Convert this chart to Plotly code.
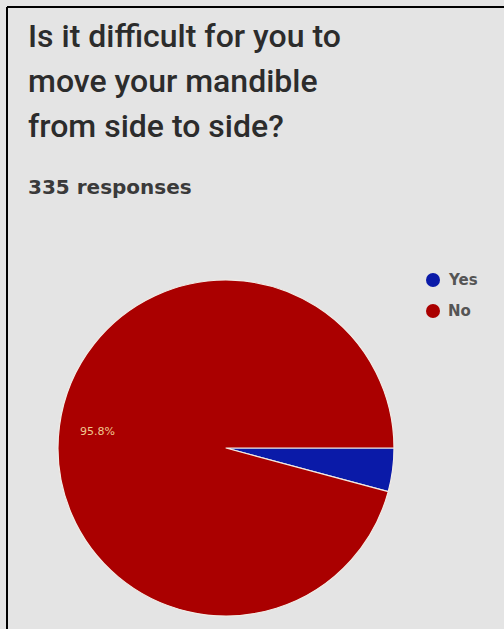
import math
import plotly.graph_objects as go

# Survey answers
question_lines = ["Is it difficult for you to", "move your mandible", "from side to side?"]
response_note = "335 responses"
answers = ["Yes", "No"]
counts = [14, 321]
colors = ["#0a1aa8", "#aa0000"]

W, H = 504, 629
CX, CY, R = 226, 448, 168          # pie centre and radius in pixels
START_DEG = 90                     # first slice starts at 3 o'clock, runs clockwise

total = sum(counts)

fig = go.Figure()
fig.add_trace(go.Pie(
    labels=answers,
    values=counts,
    sort=False,
    direction="clockwise",
    rotation=START_DEG,
    marker=dict(colors=colors, line=dict(color="#f2ece6", width=1.2)),
    textinfo="none",
    showlegend=False,
    hoverinfo="label+percent",
    domain=dict(x=[(CX - R) / W, (CX + R) / W],
                y=[1 - (CY + R) / H, 1 - (CY - R) / H]),
))

annotations = []

# Percentage labels for slices large enough to hold one, placed along the slice's mid angle
cum = 0
for c in counts:
    frac = c / total
    mid = cum + frac / 2
    cum += frac
    if frac < 0.05:
        continue
    # clockwise from 3 o'clock, screen y grows downward
    ang = math.radians(mid * 360)
    px = CX + 0.77 * R * math.cos(ang)
    py = CY + 0.77 * R * math.sin(ang)
    annotations.append(dict(
        x=px / W, y=1 - py / H, xref="paper", yref="paper",
        xanchor="center", yanchor="middle", showarrow=False,
        text=f"{frac * 100:.1f}%",
        font=dict(family="DejaVu Sans", size=11, color="#f0c890"),
    ))

for i, line in enumerate(question_lines):
    annotations.append(dict(
        x=26 / W, y=1 - (36 + 45 * i) / H, xref="paper", yref="paper",
        xanchor="left", yanchor="middle", showarrow=False, text=line,
        font=dict(family="Roboto", size=32, color="#2c2c2c", weight=500),
    ))
annotations.append(dict(
    x=26 / W, y=1 - 187 / H, xref="paper", yref="paper",
    xanchor="left", yanchor="middle", showarrow=False, text=response_note,
    font=dict(family="DejaVu Sans", size=20, color="#3a3a3a", weight="bold"),
))

shapes = [
    dict(type="line", xref="paper", yref="paper", x0=7 / W, x1=1, y0=1 - 7 / H, y1=1 - 7 / H,
         line=dict(color="#000000", width=2)),
    dict(type="line", xref="paper", yref="paper", x0=7 / W, x1=7 / W, y0=0, y1=1 - 7 / H,
         line=dict(color="#000000", width=2)),
]

# Legend: dot + label per answer
for i, (name, col) in enumerate(zip(answers, colors)):
    cy = 280 + 31 * i
    shapes.append(dict(type="circle", xref="paper", yref="paper",
                       x0=(433 - 7) / W, x1=(433 + 7) / W,
                       y0=1 - (cy + 7) / H, y1=1 - (cy - 7) / H,
                       fillcolor=col, line=dict(width=0)))
    annotations.append(dict(
        x=446 / W, y=1 - cy / H, xref="paper", yref="paper",
        xanchor="left", yanchor="middle", showarrow=False, text=name,
        font=dict(family="DejaVu Sans", size=15, color="#555555", weight="bold"),
    ))

fig.update_layout(
    width=W, height=H,
    margin=dict(l=0, r=0, t=0, b=0),
    paper_bgcolor="#e4e4e4",
    plot_bgcolor="#e4e4e4",
    annotations=annotations,
    shapes=shapes,
)

fig.write_html("out.html")
